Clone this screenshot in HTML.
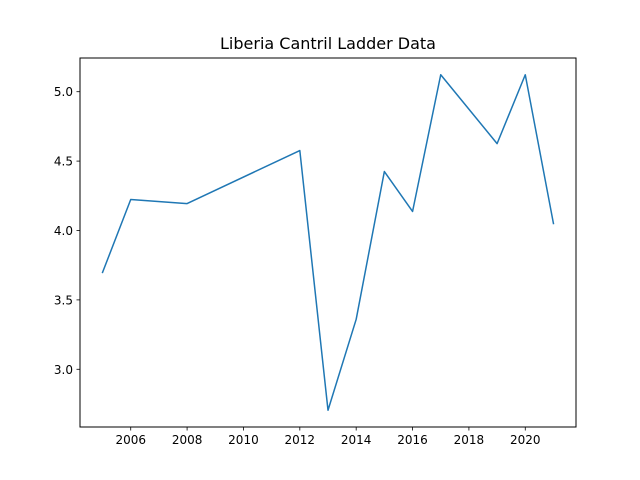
<!DOCTYPE html>
<html><head><meta charset="utf-8"><style>
html,body{margin:0;padding:0;background:#fff;}
svg{display:block;font-family:"DejaVu Sans","Liberation Sans",sans-serif;}
</style></head><body>
<svg id="chart" width="640" height="480" viewBox="0 0 640 480">
<text x="328" y="49" text-anchor="middle" font-size="16" fill="#000">Liberia Cantril Ladder Data</text>
<g id="plot"></g>
<rect x="80" y="58" width="496" height="369" fill="none" stroke="#000" stroke-width="1"/>
</svg>
<script>
const years = [2005, 2006, 2008, 2012, 2013, 2014, 2015, 2016, 2017, 2019, 2020, 2021];
const values = [3.698, 4.223, 4.194, 4.576, 2.705, 3.36, 4.425, 4.137, 5.122, 4.626, 5.122, 4.05];
const xTicks = [2006, 2008, 2010, 2012, 2014, 2016, 2018, 2020];
const yTicks = [3.0, 3.5, 4.0, 4.5, 5.0];

const L=80,R=576,T=58,B=427;
const xmin0=Math.min(...years),xmax0=Math.max(...years);
const xm=(xmax0-xmin0)*0.05, xmin=xmin0-xm, xmax=xmax0+xm;
const ymin0=Math.min(...values),ymax0=Math.max(...values);
const ym=(ymax0-ymin0)*0.05, ymin=ymin0-ym, ymax=ymax0+ym;
const sx=v=>L+(v-xmin)/(xmax-xmin)*(R-L);
const sy=v=>B-(v-ymin)/(ymax-ymin)*(B-T);
const NS='http://www.w3.org/2000/svg';
const g=document.getElementById('plot');
function mk(t,a){const e=document.createElementNS(NS,t);for(const k in a)e.setAttribute(k,a[k]);g.appendChild(e);return e;}
xTicks.forEach(t=>{
  const x=sx(t);
  const l=mk('line',{x1:x,x2:x,y1:B,y2:B+3.5,stroke:'#000','stroke-width':0.8});
  
  
  const tx=mk('text',{x:x,y:B+17,'text-anchor':'middle','font-size':12,fill:'#000'});
  tx.textContent=t;
  
  
});
yTicks.forEach(t=>{
  const y=sy(t);
  const l=mk('line',{x1:L-3.5,x2:L,y1:y,y2:y,stroke:'#000','stroke-width':0.8});
  
  
  const tx=mk('text',{x:L-7,y:y+4.5,'text-anchor':'end','font-size':12,fill:'#000'});
  tx.textContent=t.toFixed(1);
  
  
});
const pts=years.map((y,i)=>sx(y).toFixed(2)+','+sy(values[i]).toFixed(2)).join(' ');
const pl=mk('polyline',{points:pts,fill:'none',stroke:'#1f77b4','stroke-width':1.5,'stroke-linejoin':'round','stroke-linecap':'square'});


</script>
</body></html>
